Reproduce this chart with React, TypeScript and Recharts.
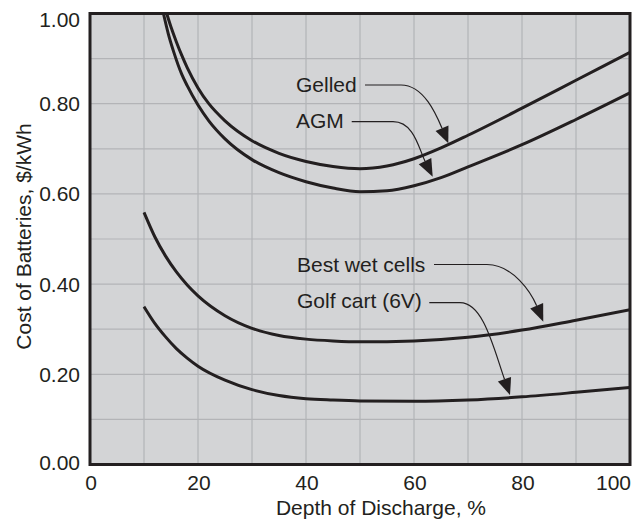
import React from 'react';
import { LineChart, Line, XAxis, YAxis, CartesianGrid, ReferenceArea, ReferenceDot } from 'recharts';

// ---- data ----
const depthGridTicks = [0, 10, 20, 30, 40, 50, 60, 70, 80, 90, 100];
const depthLabelTicks = [0, 20, 40, 60, 80, 100];
const costGridTicks = [0, 0.1, 0.2, 0.3, 0.4, 0.5, 0.6, 0.7, 0.8, 0.9, 1.0];
const costLabelTicks = ['0.00', '0.20', '0.40', '0.60', '0.80', '1.00'];

const gelledDepth = [14.2, 15, 16, 17, 18, 20, 22, 25, 30, 35, 40, 45, 50, 55, 60, 65, 70, 80, 90, 100];
const gelledCost = [1.0, 0.97, 0.937, 0.907, 0.88, 0.835, 0.8, 0.762, 0.718, 0.69, 0.672, 0.661, 0.656, 0.662, 0.678, 0.702, 0.73, 0.79, 0.852, 0.914];

const agmDepth = [13.6, 14.5, 15.5, 17, 18, 20, 22, 25, 30, 35, 40, 45, 50, 55, 60, 65, 70, 80, 90, 100];
const agmCost = [1.0, 0.955, 0.915, 0.865, 0.84, 0.797, 0.762, 0.722, 0.676, 0.647, 0.627, 0.613, 0.605, 0.607, 0.618, 0.636, 0.66, 0.709, 0.765, 0.824];

const wetDepth = [10, 12, 14, 16, 18, 20, 25, 30, 35, 40, 45, 50, 60, 70, 80, 90, 100];
const wetCost = [0.559, 0.505, 0.462, 0.427, 0.398, 0.374, 0.33, 0.302, 0.286, 0.278, 0.274, 0.272, 0.274, 0.282, 0.298, 0.32, 0.343];

const golfDepth = [10, 12, 14, 16, 18, 20, 25, 30, 35, 40, 45, 50, 60, 70, 80, 90, 100];
const golfCost = [0.35, 0.313, 0.283, 0.257, 0.236, 0.218, 0.187, 0.166, 0.153, 0.146, 0.143, 0.141, 0.14, 0.143, 0.15, 0.16, 0.171];

const annotationLabels = ['Gelled', 'AGM', 'Best wet cells', 'Golf cart (6V)'];
const annotationDepth = [38.15, 38.15, 38.33, 38.33];
const annotationCost = [0.8266, 0.7455, 0.4275, 0.347];

// ---- styles ----
const INK = '#231f20';
const FONT = '"Liberation Sans", Arial, Helvetica, sans-serif';
const FS = 21;

// arrow geometry, pixel offsets relative to the label anchor (style only)
const arrowGeom = [
  { start: [69, -6.7], h: 105, c1: [128, -6.7], c2: [140.6, 23.7], mid: [146, 36.6], tip: [152.3, 51.6] },
  { start: [55.7, -6.6], h: 97, c1: [118, -6.6], c2: [122.8, 20.4], mid: [129, 32.9], tip: [136.7, 48.4] },
  { start: [137, -7.2], h: 190, c1: [216, -7.2], c2: [234.3, 21.2], mid: [239.7, 34.1], tip: [246.3, 50] },
  { start: [132.3, -5.3], h: 163, c1: [186, -5.3], c2: [196, 38.1], mid: [207.5, 71.2], tip: [213, 87] },
];

const zip = (xs: number[], ys: number[]) => xs.map((d, i) => ({ depth: d, cost: ys[i] }));
const gelledData = zip(gelledDepth, gelledCost);
const agmData = zip(agmDepth, agmCost);
const wetData = zip(wetDepth, wetCost);
const golfData = zip(golfDepth, golfCost);

const XTick = (props: any) => {
  const { x, y, payload } = props;
  const v = payload.value;
  if (!depthLabelTicks.includes(v)) return <g />;
  const anchor = v === 100 ? 'end' : 'middle';
  return (
    <text x={x + 1} y={y} dy="0.71em" textAnchor={anchor} fill={INK} fontSize={FS} fontFamily={FONT}>
      {String(v)}
    </text>
  );
};

const YTick = (props: any) => {
  const { x, y, payload } = props;
  const s = Number(payload.value).toFixed(2);
  if (!costLabelTicks.includes(s)) return <g />;
  let dy = 0;
  if (s === '1.00') dy = 6.5;
  if (s === '0.00') dy = -2;
  return (
    <text x={x} y={y + dy} dy="0.355em" textAnchor="end" fill={INK} fontSize={FS} fontFamily={FONT}>
      {s}
    </text>
  );
};

const makeAnnotation = (i: number) => (props: any) => {
  const { cx, cy } = props;
  const g = arrowGeom[i];
  const [sx, sy] = g.start;
  const dx = g.tip[0] - g.mid[0];
  const dy = g.tip[1] - g.mid[1];
  const len = Math.sqrt(dx * dx + dy * dy);
  const px = (-dy / len) * 7;
  const py = (dx / len) * 7;
  const d = `M ${cx + sx} ${cy + sy} H ${cx + g.h} C ${cx + g.c1[0]} ${cy + g.c1[1]} ${cx + g.c2[0]} ${cy + g.c2[1]} ${cx + g.mid[0]} ${cy + g.mid[1]}`;
  const tri = `${cx + g.tip[0]},${cy + g.tip[1]} ${cx + g.mid[0] + px},${cy + g.mid[1] + py} ${cx + g.mid[0] - px},${cy + g.mid[1] - py}`;
  return (
    <g>
      <text x={cx} y={cy} fill={INK} fontSize={FS} fontFamily={FONT}>
        {annotationLabels[i]}
      </text>
      <path d={d} fill="none" stroke={INK} strokeWidth={1.2} />
      <polygon points={tri} fill={INK} />
    </g>
  );
};

export default function App() {
  return (
    <div style={{ position: 'absolute', left: 0, top: 0, width: 633, height: 519 }}>
      <LineChart
        width={633}
        height={519}
        margin={{ top: 13.5, right: 3, left: 10, bottom: 24.5 }}
      >
        <CartesianGrid fill="#d3d4d6" stroke="#b3b4b7" strokeWidth={1.2} />
        <XAxis
          dataKey="depth"
          type="number"
          domain={[0, 100]}
          ticks={depthGridTicks}
          interval={0}
          tick={<XTick />}
          tickSize={0}
          tickMargin={10.5}
          axisLine={false}
          tickLine={false}
          height={30}
          allowDataOverflow
          label={{
            content: () => (
              <text x={381} y={515} textAnchor="middle" fill={INK} fontSize={FS} fontFamily={FONT}>
                Depth of Discharge, %
              </text>
            ),
          }}
        />
        <YAxis
          type="number"
          domain={[0, 1]}
          ticks={costGridTicks}
          interval={0}
          tick={<YTick />}
          tickSize={0}
          tickMargin={10}
          axisLine={false}
          tickLine={false}
          width={80}
          allowDataOverflow
          label={{
            content: () => (
              <text
                x={31}
                y={236.5}
                transform="rotate(-90, 31, 236.5)"
                textAnchor="middle"
                fill={INK}
                fontSize={FS}
                fontFamily={FONT}
              >
                Cost of Batteries, $/kWh
              </text>
            ),
          }}
        />
        <Line data={gelledData} dataKey="cost" type="monotone" stroke={INK} strokeWidth={3} dot={false} isAnimationActive={false} />
        <Line data={agmData} dataKey="cost" type="monotone" stroke={INK} strokeWidth={3} dot={false} isAnimationActive={false} />
        <Line data={wetData} dataKey="cost" type="monotone" stroke={INK} strokeWidth={3} dot={false} isAnimationActive={false} />
        <Line data={golfData} dataKey="cost" type="monotone" stroke={INK} strokeWidth={3} dot={false} isAnimationActive={false} />
        <ReferenceArea x1={0} x2={100} y1={0} y2={1} fill="none" stroke={INK} strokeWidth={3} ifOverflow="visible" />
        {annotationLabels.map((_, i) => (
          <ReferenceDot
            key={i}
            x={annotationDepth[i]}
            y={annotationCost[i]}
            r={0}
            ifOverflow="visible"
            shape={makeAnnotation(i)}
          />
        ))}
      </LineChart>
    </div>
  );
}
